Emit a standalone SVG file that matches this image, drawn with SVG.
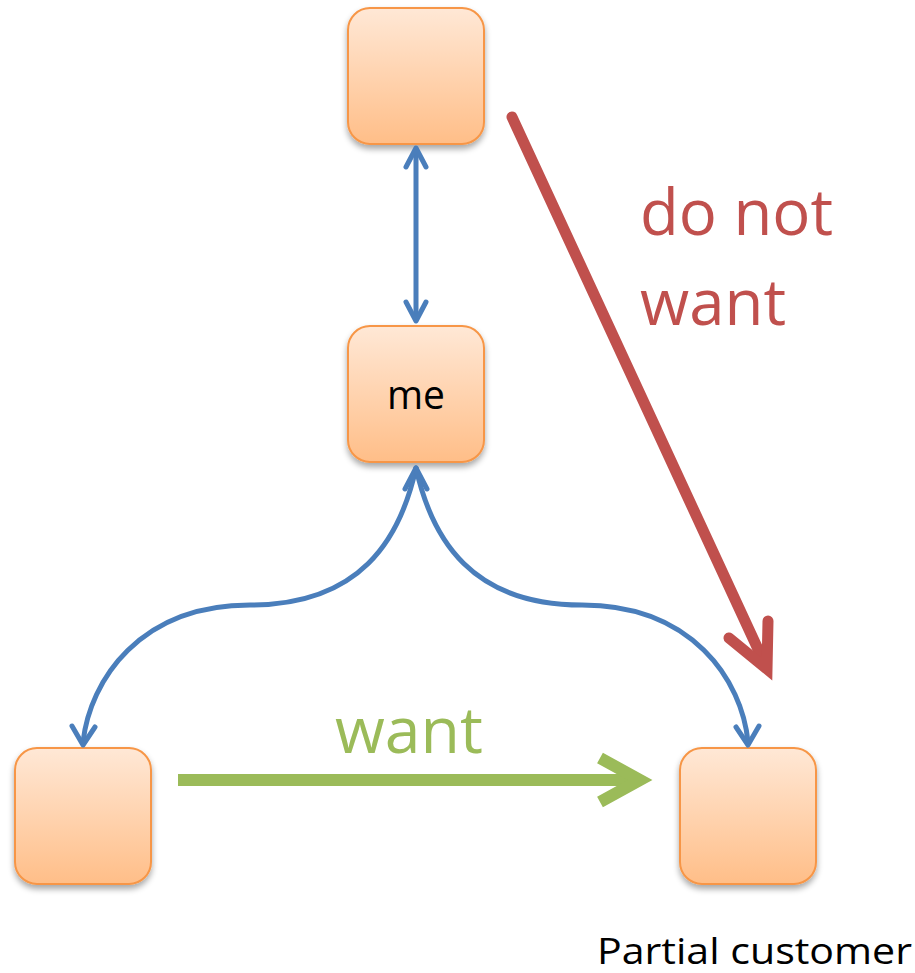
<svg xmlns="http://www.w3.org/2000/svg" width="915" height="973" viewBox="0 0 915 973">
  <defs>
    <linearGradient id="nodeFill" x1="0" y1="0" x2="0" y2="1">
      <stop offset="0" stop-color="#FFE8D6"/>
      <stop offset="1" stop-color="#FFBE88"/>
    </linearGradient>
    <filter id="shadow" x="-20%" y="-20%" width="140%" height="150%">
      <feGaussianBlur in="SourceAlpha" stdDeviation="3"/>
      <feOffset dx="0" dy="4" result="b"/>
      <feComponentTransfer><feFuncA type="linear" slope="0.35"/></feComponentTransfer>
      <feMerge><feMergeNode/><feMergeNode in="SourceGraphic"/></feMerge>
    </filter>
  </defs>
  <style>
    .box { fill: url(#nodeFill); stroke: #F79646; stroke-width: 2; filter: url(#shadow); }
    .blue { fill: none; stroke: #4A7EBB; stroke-width: 5; stroke-linecap: round; stroke-linejoin: round; }
    .red { fill: none; stroke: #C0504D; stroke-width: 11; stroke-linecap: round; stroke-linejoin: miter; }
    .green { fill: none; stroke: #9BBB59; stroke-width: 12; stroke-linecap: butt; stroke-linejoin: miter; }
    .lbl { font-family: "Open Sans", "Liberation Sans", sans-serif; }
  </style>

  <!-- nodes -->
  <g id="top">
    <rect class="box" x="348" y="8" width="136" height="136" rx="22"/>
  </g>
  <g id="me">
    <rect class="box" x="348" y="326" width="136" height="136" rx="22"/>
    <text class="lbl" x="387" y="409" font-size="40" textLength="58" lengthAdjust="spacingAndGlyphs" fill="#000">me</text>
  </g>
  <g id="left">
    <rect class="box" x="15" y="748" width="136" height="136" rx="22"/>
  </g>
  <g id="partial">
    <rect class="box" x="680" y="748" width="136" height="136" rx="22"/>
  </g>

  <!-- connectors -->
  <g id="connectors">
    <!-- top <-> me -->
    <path class="blue" d="M416 150 V319"/>
    <path class="blue" d="M406 167 L416 148 L426 167"/>
    <path class="blue" d="M406 302 L416 321 L426 302"/>
    <!-- me <-> left -->
    <path class="blue" d="M416 468 C400 540 360 605 250 605 C140 605 90 680 83 742"/>
    <path class="blue" d="M405 489 L416 468 L427 489"/>
    <path class="blue" d="M72 726 L83 745 L95 727"/>
    <!-- me <-> partial -->
    <path class="blue" d="M416 468 C432 540 472 605 582 605 C692 605 742 680 748 742"/>
    <path class="blue" d="M736 727 L748 745 L759 726"/>
    <!-- do not want -->
    <path class="red" d="M512 117 L763 660"/>
    <path class="red" d="M729 638 L767 669 L768 621"/>
    <!-- want -->
    <path class="green" d="M178 780 H636"/>
    <path class="green" stroke-linecap="round" d="M600 758 L640 780 L600 802"/>
  </g>

  <!-- labels -->
  <text class="lbl" x="640" y="235" font-size="64" textLength="193" lengthAdjust="spacingAndGlyphs" fill="#C0504D">do not</text>
  <text class="lbl" x="640" y="325" font-size="64" textLength="146" lengthAdjust="spacingAndGlyphs" fill="#C0504D">want</text>
  <text class="lbl" x="335" y="753" font-size="64" textLength="148" lengthAdjust="spacingAndGlyphs" fill="#9BBB59">want</text>
  <text class="lbl" x="597" y="964" font-size="36" textLength="315" lengthAdjust="spacingAndGlyphs" fill="#000">Partial customer</text>
</svg>
